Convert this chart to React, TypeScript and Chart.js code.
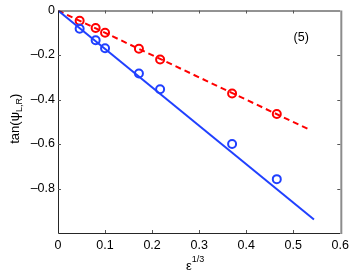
import React, { useEffect, useRef } from "react";
import { Chart, registerables } from "chart.js";

Chart.register(...registerables);

const epsX = [0.046, 0.08, 0.1, 0.172, 0.217, 0.37, 0.465];
const redVals = [-0.046, -0.079, -0.1, -0.172, -0.22, -0.373, -0.465];
const blueVals = [-0.082, -0.134, -0.17, -0.283, -0.354, -0.6, -0.758];
const blueFitX = [0, 0.544];
const blueFitY = [0, -0.939];
const redFitX = [0, 0.535];
const redFitY = [0, -0.536];
const xTicks = [0, 0.1, 0.2, 0.3, 0.4, 0.5, 0.6];
const yTicks = [0, -0.2, -0.4, -0.6, -0.8, -1];
const annotation = { x: 0.517, y: -0.118, text: "(5)" };

const BLUE = "#2040ff";
const RED = "#ff0000";
const FONT = "'Liberation Sans', Arial, sans-serif";

const boxPlugin = {
  id: "matlabBox",
  afterDraw(chart: any) {
    const { ctx, chartArea: a, scales } = chart;
    const xs = scales.x;
    const ys = scales.y;
    ctx.save();
    ctx.lineWidth = 1;
    ctx.strokeStyle = "#262626";
    ctx.beginPath();
    ctx.moveTo(a.left + 0.5, a.top + 0.5);
    ctx.lineTo(a.left + 0.5, a.bottom + 0.5);
    ctx.lineTo(a.right, a.bottom + 0.5);
    ctx.moveTo(a.left, a.top + 0.5);
    ctx.lineTo(a.right, a.top + 0.5);
    ctx.stroke();
    ctx.strokeStyle = "#8c8c8c";
    ctx.lineWidth = 2;
    ctx.beginPath();
    ctx.moveTo(a.right + 1, a.top);
    ctx.lineTo(a.right + 1, a.bottom + 1);
    ctx.stroke();
    ctx.lineWidth = 1;
    ctx.strokeStyle = "#555";
    ctx.beginPath();
    for (const v of xTicks) {
      if (v === 0 || v === 0.6) continue;
      const px = Math.round(xs.getPixelForValue(v)) + 0.5;
      ctx.moveTo(px, a.bottom);
      ctx.lineTo(px, a.bottom - 3);
      ctx.moveTo(px, a.top);
      ctx.lineTo(px, a.top + 3);
    }
    for (const v of yTicks) {
      if (v === 0 || v === -1) continue;
      const py = Math.round(ys.getPixelForValue(v)) + 0.5;
      ctx.moveTo(a.left, py);
      ctx.lineTo(a.left + 3, py);
      ctx.moveTo(a.right, py);
      ctx.lineTo(a.right - 3, py);
    }
    ctx.stroke();

    ctx.fillStyle = "#000";
    ctx.textBaseline = "alphabetic";
    ctx.font = `12.5px ${FONT}`;
    ctx.textAlign = "center";
    ctx.fillText(annotation.text, xs.getPixelForValue(annotation.x), ys.getPixelForValue(annotation.y) + 4);

    // x title: ε^{1/3}
    const xc = xs.getPixelForValue(0.3);
    ctx.textAlign = "left";
    ctx.font = `13px ${FONT}`;
    const epsW = ctx.measureText("ε").width;
    ctx.font = `9px ${FONT}`;
    const supW = ctx.measureText("1/3").width;
    const startX = xc - (epsW + supW) / 2 - 4;
    ctx.font = `13px ${FONT}`;
    ctx.fillText("ε", startX, 270);
    ctx.font = `9px ${FONT}`;
    ctx.fillText("1/3", startX + epsW, 262);

    // y title: tan(ψ_{L,R})
    ctx.save();
    ctx.translate(19, (a.top + a.bottom) / 2 - 3);
    ctx.rotate(-Math.PI / 2);
    ctx.font = `13px ${FONT}`;
    const w1 = ctx.measureText("tan(ψ").width;
    const w3 = ctx.measureText(")").width;
    ctx.font = `9px ${FONT}`;
    const w2 = ctx.measureText("L,R").width;
    let sx = -(w1 + w2 + w3) / 2;
    ctx.font = `13px ${FONT}`;
    ctx.fillText("tan(ψ", sx, 0);
    sx += w1;
    ctx.font = `9px ${FONT}`;
    ctx.fillText("L,R", sx, 3);
    sx += w2;
    ctx.font = `13px ${FONT}`;
    ctx.fillText(")", sx, 0);
    ctx.restore();
    ctx.restore();
  },
};

const bgPlugin = {
  id: "whiteBg",
  beforeDraw(chart: any) {
    const { ctx, width, height } = chart;
    ctx.save();
    ctx.fillStyle = "#fff";
    ctx.fillRect(0, 0, width, height);
    ctx.restore();
  },
};

function fmt(v: number) {
  if (v === -1) return "";
  if (v === 0) return "0";
  const s = Math.abs(v).toFixed(1);
  return v < 0 ? "\u2013" + s : s;
}

export default function App() {
  const ref = useRef<HTMLCanvasElement | null>(null);
  useEffect(() => {
    document.body.style.margin = "0";
    const ctx = ref.current!.getContext("2d")!;
    const chart = new Chart(ctx, {
      type: "scatter",
      data: {
        datasets: [
          {
            data: blueFitX.map((x, i) => ({ x, y: blueFitY[i] })),
            showLine: true,
            borderColor: BLUE,
            borderWidth: 2,
            pointRadius: 0,
          },
          {
            data: redFitX.map((x, i) => ({ x, y: redFitY[i] })),
            showLine: true,
            borderColor: RED,
            borderWidth: 2,
            borderDash: [6, 4],
            pointRadius: 0,
          },
          {
            data: epsX.map((x, i) => ({ x, y: blueVals[i] })),
            pointRadius: 4,
            pointBorderWidth: 2,
            pointBorderColor: BLUE,
            pointBackgroundColor: "rgba(0,0,0,0)",
          },
          {
            data: epsX.map((x, i) => ({ x, y: redVals[i] })),
            pointRadius: 4,
            pointBorderWidth: 2,
            pointBorderColor: RED,
            pointBackgroundColor: "rgba(0,0,0,0)",
          },
        ],
      } as any,
      options: {
        animation: false,
        responsive: false,
        maintainAspectRatio: false,
        layout: { padding: { left: 0, right: 12, top: 10, bottom: 0 } },
        plugins: { legend: { display: false }, tooltip: { enabled: false } },
        scales: {
          x: {
            type: "linear",
            min: 0,
            max: 0.6,
            afterBuildTicks: (s: any) => {
              s.ticks = xTicks.map((v) => ({ value: v }));
            },
            afterFit: (s: any) => {
              s.height = 40;
            },
            grid: { display: false, drawTicks: false },
            border: { display: false },
            ticks: {
              padding: 5,
              color: "#000",
              font: { size: 12.5, family: FONT },
              callback: (v: any) => (v === 0 ? "0" : Number(v).toFixed(1)),
              maxRotation: 0,
            },
          },
          y: {
            type: "linear",
            min: -1,
            max: 0,
            afterBuildTicks: (s: any) => {
              s.ticks = yTicks.map((v) => ({ value: v }));
            },
            afterFit: (s: any) => {
              s.width = 58;
            },
            grid: { display: false, drawTicks: false },
            border: { display: false },
            ticks: {
              padding: 3,
              color: "#000",
              font: { size: 12.5, family: FONT },
              callback: (v: any) => fmt(Number(v)),
            },
          },
        },
      } as any,
      plugins: [bgPlugin, boxPlugin],
    });
    return () => chart.destroy();
  }, []);
  return (
    <div style={{ position: "absolute", left: 0, top: 0, width: 354, height: 273 }}>
      <canvas ref={ref} width={354} height={273} style={{ width: 354, height: 273 }} />
    </div>
  );
}
